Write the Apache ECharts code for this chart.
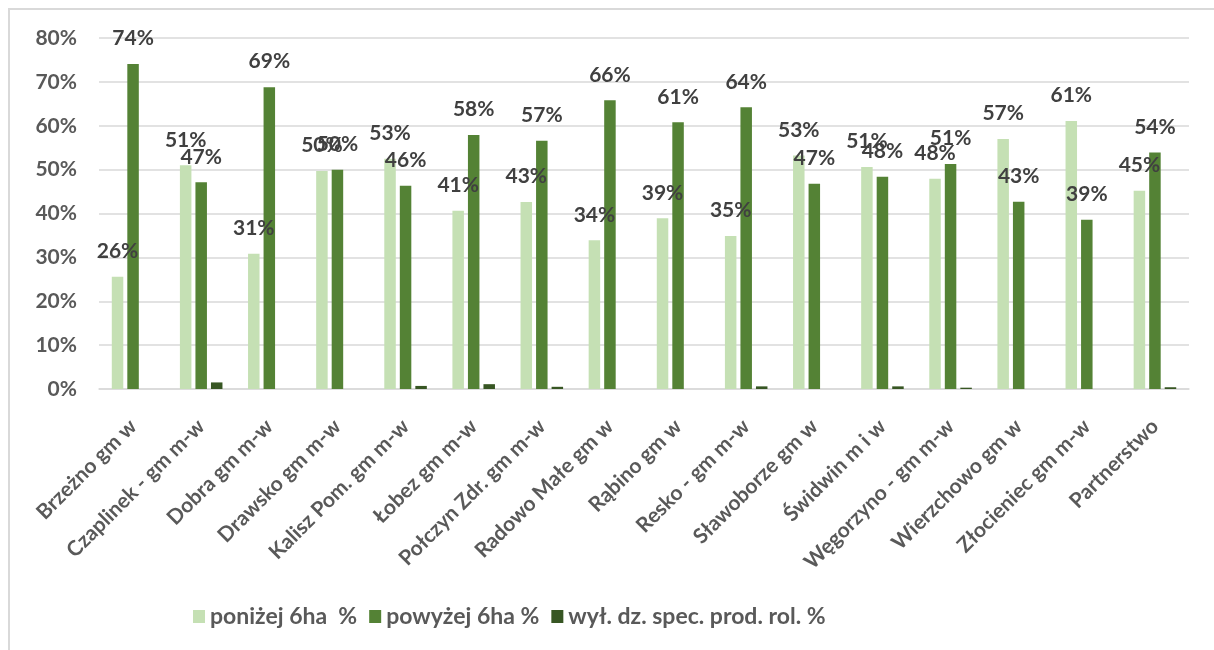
<!DOCTYPE html>
<html>
<head>
<meta charset="utf-8">
<script src="https://cdn.jsdelivr.net/npm/echarts@6/dist/echarts.min.js"></script>
<style>html,body{margin:0;padding:0;background:#fff;}#c{width:1214px;height:650px;}</style>
</head>
<body>
<div id="c"></div>
<script>
const categories = ["Brzeżno gm w","Czaplinek - gm m-w","Dobra gm m-w","Drawsko gm m-w","Kalisz Pom. gm m-w","Łobez gm m-w","Połczyn Zdr. gm m-w","Radowo Małe gm w","Rąbino gm w","Resko - gm m-w","Sławoborze gm w","Świdwin m i w","Węgorzyno - gm m-w","Wierzchowo gm w","Złocieniec gm m-w","Partnerstwo"];
const seriesNames = ["poniżej 6ha  %","powyżej 6ha %","wył. dz. spec. prod. rol. %"];
const ponizej = [25.6,51.0,30.8,49.7,52.5,40.6,42.6,33.9,38.9,34.9,53.2,50.6,47.9,57.0,61.1,45.2];
const powyzej = [74.1,47.1,68.8,50.0,46.3,57.9,56.6,65.8,60.8,64.2,46.8,48.4,51.3,42.7,38.6,53.9];
const wyl = [0,1.5,0,0,0.7,1.1,0.5,0,0,0.6,0,0.6,0.3,0,0,0.4];
const yTicks = {min:0,max:80,interval:10};

const FONT = 'Lato';
const chart = echarts.init(document.getElementById('c'), null, {renderer:'canvas'});
const lbl = {
  show:true, position:'top', distance:15,
  formatter: p => Math.round(p.value) + '%',
  fontFamily: FONT, fontWeight:'bold', fontSize:21, color:'#404040'
};
chart.setOption({
  animation:false,
  backgroundColor:'#fff',
  graphic:[{type:'polyline', shape:{points:[[9,660],[9,9],[1230,9]]}, style:{stroke:'#d9d9d9', lineWidth:2, fill:null}, silent:true}],
  grid:{left:99,right:25,top:38,bottom:261,containLabel:false},
  legend:{
    bottom:17, left:188, itemWidth:12, itemHeight:13, itemGap:12,
    icon:'rect',
    textStyle:{fontFamily:FONT, fontWeight:'bold', fontSize:23, color:'#595959'},
    data:seriesNames
  },
  xAxis:{
    type:'category', data:categories,
    axisLine:{show:true, lineStyle:{color:'#d9d9d9', width:1.5}},
    axisTick:{show:false},
    axisLabel:{rotate:45, margin:34, interval:0, fontFamily:FONT, fontWeight:'bold', fontSize:21, color:'#595959'}
  },
  yAxis:{
    type:'value', min:yTicks.min, max:yTicks.max, interval:yTicks.interval,
    axisLine:{show:false}, axisTick:{show:false},
    splitLine:{lineStyle:{color:'#d9d9d9', width:1.5}},
    axisLabel:{formatter:'{value}%', margin:22, fontFamily:FONT, fontWeight:'bold', fontSize:21, color:'#595959'}
  },
  series:[
    {name:seriesNames[0], type:'bar', data:ponizej, barWidth:11.5, barGap:'35%', itemStyle:{color:'#c5e0b4'}, label:lbl},
    {name:seriesNames[1], type:'bar', data:powyzej, barWidth:11.5, barGap:'35%', itemStyle:{color:'#548235'}, label:lbl},
    {name:seriesNames[2], type:'bar', data:wyl, barWidth:11.5, barGap:'35%', itemStyle:{color:'#375623'}}
  ]
});
</script>
</body>
</html>
